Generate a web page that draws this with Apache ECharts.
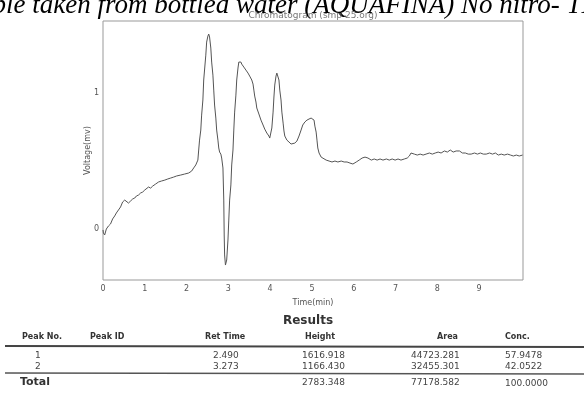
<!DOCTYPE html>
<html>
<head>
<meta charset="utf-8">
<script src="https://cdn.jsdelivr.net/npm/echarts@6/dist/echarts.min.js"></script>
<style>
html,body{margin:0;padding:0;background:#fff;}
#chart{width:584px;height:417px;}
</style>
</head>
<body>
<div id="chart"></div>
<script>
// ---- data ----
var pageCaption = 'Sample taken from bottled water (AQUAFINA) No nitro- TN';
var chartTitle = 'Chromatogram (smp 25.org)';
var xTickLabels = [0,1,2,3,4,5,6,7,8,9];
var yTickLabels = [0,1];
var timeMin = [0.00,0.01,0.04,0.08,0.13,0.18,0.23,0.28,0.32,0.37,0.42,0.47,0.52,0.56,0.61,0.66,0.71,0.76,0.80,0.85,0.90,0.95,1.00,1.04,1.09,1.14,1.19,1.26,1.33,1.40,1.48,1.55,1.62,1.69,1.76,1.86,1.95,2.05,2.12,2.17,2.22,2.27,2.29,2.31,2.34,2.36,2.39,2.41,2.46,2.48,2.51,2.53,2.55,2.58,2.60,2.63,2.65,2.67,2.70,2.72,2.75,2.77,2.79,2.82,2.84,2.87,2.89,2.90,2.91,2.93,2.94,2.96,2.99,3.01,3.03,3.06,3.08,3.11,3.13,3.15,3.18,3.20,3.23,3.25,3.27,3.30,3.32,3.37,3.42,3.47,3.51,3.56,3.59,3.61,3.63,3.66,3.68,3.73,3.78,3.83,3.87,3.92,3.97,3.99,4.02,4.04,4.07,4.09,4.11,4.14,4.16,4.19,4.21,4.23,4.26,4.28,4.31,4.33,4.35,4.40,4.45,4.50,4.54,4.59,4.64,4.69,4.74,4.78,4.83,4.88,4.93,4.98,5.02,5.05,5.07,5.10,5.12,5.14,5.17,5.22,5.26,5.34,5.41,5.48,5.55,5.62,5.70,5.77,5.84,5.91,5.98,6.06,6.13,6.20,6.27,6.34,6.42,6.49,6.56,6.63,6.70,6.78,6.85,6.92,6.99,7.06,7.13,7.21,7.28,7.33,7.37,7.45,7.52,7.59,7.66,7.73,7.81,7.88,7.95,8.02,8.09,8.17,8.24,8.31,8.38,8.45,8.53,8.60,8.67,8.74,8.81,8.89,8.96,9.03,9.10,9.17,9.25,9.32,9.39,9.46,9.53,9.60,9.68,9.75,9.82,9.89,9.96,10.04];
var voltageMv = [-0.007,-0.029,-0.044,0.000,0.022,0.037,0.074,0.096,0.118,0.140,0.162,0.199,0.213,0.206,0.191,0.206,0.221,0.228,0.243,0.250,0.265,0.272,0.287,0.294,0.309,0.301,0.316,0.331,0.346,0.353,0.360,0.368,0.375,0.382,0.390,0.397,0.404,0.412,0.426,0.449,0.471,0.507,0.581,0.654,0.728,0.838,0.949,1.096,1.279,1.375,1.419,1.434,1.412,1.331,1.228,1.132,1.022,0.912,0.816,0.728,0.654,0.596,0.566,0.551,0.522,0.449,0.213,-0.044,-0.191,-0.265,-0.279,-0.228,-0.081,0.066,0.213,0.324,0.471,0.581,0.728,0.860,0.985,1.096,1.184,1.228,1.235,1.228,1.213,1.191,1.169,1.147,1.125,1.096,1.066,1.022,0.978,0.934,0.890,0.846,0.801,0.765,0.735,0.706,0.684,0.669,0.676,0.743,0.860,0.971,1.059,1.125,1.147,1.140,1.096,1.022,0.949,0.860,0.779,0.721,0.684,0.654,0.640,0.625,0.625,0.632,0.647,0.684,0.728,0.765,0.787,0.801,0.809,0.816,0.824,0.801,0.757,0.713,0.654,0.596,0.559,0.529,0.515,0.507,0.500,0.493,0.500,0.493,0.500,0.493,0.493,0.485,0.478,0.493,0.507,0.522,0.529,0.522,0.507,0.515,0.507,0.515,0.507,0.515,0.507,0.515,0.507,0.515,0.507,0.515,0.522,0.537,0.559,0.551,0.544,0.551,0.544,0.551,0.559,0.551,0.559,0.566,0.559,0.574,0.566,0.581,0.566,0.574,0.574,0.559,0.559,0.551,0.551,0.559,0.551,0.559,0.551,0.551,0.559,0.551,0.559,0.544,0.551,0.544,0.551,0.544,0.537,0.544,0.537,0.544];

var tableTitle = 'Results';
var tableHeaders = ['Peak No.','Peak ID','Ret Time','Height','Area','Conc.'];
var peakNo = ['1','2'];
var peakId = ['',''];
var retTime = ['2.490','3.273'];
var peakHeight = ['1616.918','1166.430'];
var peakArea = ['44723.281','32455.301'];
var peakConc = ['57.9478','42.0522'];
var totalLabel = 'Total';
var totalHeight = '2783.348';
var totalArea = '77178.582';
var totalConc = '100.0000';

// ---- build ----
var seriesData = timeMin.map(function(t,i){ return [t, voltageMv[i]]; });

var tf = 'DejaVu Sans';
var colX = [22, 90, 205, 305, 437, 505];
var valX = [35, 90, 213, 302, 411, 505];
var rowY = [356, 367];
var graphics = [];
function txt(x,y,s,size,weight,color,align){
  graphics.push({type:'text', x:x, y:y, silent:true, style:{text:s, fontFamily:tf, fontSize:size, fontWeight:weight||'normal', fill:color||'#333', align:align||'left', verticalAlign:'middle'}});
}
// caption
graphics.push({type:'text', x:-54, y:6, silent:true, style:{text:pageCaption, fontFamily:'Liberation Serif', fontStyle:'italic', fontSize:27, fill:'#000', align:'left', verticalAlign:'middle'}});
txt(313, 16, chartTitle, 9, 'normal', '#777', 'center');
// table
txt(308, 321, tableTitle, 12, 'bold', '#333', 'center');
tableHeaders.forEach(function(h,i){ txt(colX[i], 337, h, 8, 'bold', '#333'); });
var cols = [peakNo, peakId, retTime, peakHeight, peakArea, peakConc];
cols.forEach(function(col,ci){ col.forEach(function(v,ri){ if(v) txt(valX[ci], rowY[ri], v, 9, 'normal', '#444'); }); });
txt(20, 382, totalLabel, 11, 'bold', '#333');
txt(valX[3], 383, totalHeight, 9, 'normal', '#444');
txt(valX[4], 383, totalArea, 9, 'normal', '#444');
txt(valX[5], 384, totalConc, 9, 'normal', '#444');
graphics.push({type:'line', silent:true, shape:{x1:5,y1:346,x2:584,y2:347}, style:{stroke:'#444', lineWidth:2}});
graphics.push({type:'line', silent:true, shape:{x1:5,y1:373,x2:584,y2:374}, style:{stroke:'#555', lineWidth:1.5}});

var chart = echarts.init(document.getElementById('chart'), null, {renderer:'canvas'});
chart.setOption({
  animation:false,
  backgroundColor:'#fff',
  grid:{left:103, right:61, top:21, bottom:137, show:true, borderColor:'#999', borderWidth:1},
  xAxis:{type:'value', min:0, max:10.05,
    axisLine:{show:false}, axisTick:{show:false}, splitLine:{show:false},
    axisLabel:{customValues:xTickLabels, fontSize:8, color:'#555', margin:5, fontFamily:'DejaVu Sans'},
    name:'Time(min)', nameLocation:'middle', nameGap:19, nameTextStyle:{fontSize:8, color:'#555', fontFamily:'DejaVu Sans'}},
  yAxis:{type:'value', min:-0.375, max:1.53,
    axisLine:{show:false}, axisTick:{show:false}, splitLine:{show:false},
    axisLabel:{customValues:yTickLabels, fontSize:8, color:'#555', margin:4, fontFamily:'DejaVu Sans'},
    name:'Voltage(mv)', nameLocation:'middle', nameGap:11, nameMoveOverlap:false, nameRotate:90, nameTextStyle:{fontSize:8, color:'#555', fontFamily:'DejaVu Sans'}},
  series:[{type:'line', data:seriesData, showSymbol:false, symbol:'none', lineStyle:{color:'#555', width:1}, silent:true}],
  graphic:graphics
});
</script>
</body>
</html>
